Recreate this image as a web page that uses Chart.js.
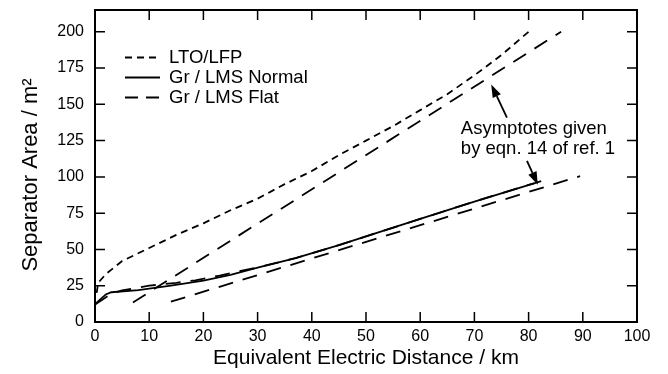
<!DOCTYPE html>
<html>
<head>
<meta charset="utf-8">
<title>Separator Area vs Equivalent Electric Distance</title>
<script src="https://cdn.jsdelivr.net/npm/chart.js@4.4.0/dist/chart.umd.min.js"></script>
<style>
    html, body { margin: 0; padding: 0; background: #fff; }
    #wrap { width: 668px; height: 374px; }
</style>
</head>
<body>
<div id="wrap"><canvas id="chart" width="668" height="374"></canvas></div>
<script>
// Data (km, m^2)
const ltoX = [0.3, 0.6, 2, 5, 10, 15, 20, 25, 30, 35, 40, 45, 50, 55, 60, 65, 70, 75, 80];
const ltoY = [20, 27, 33, 42, 51, 60, 68, 77, 85, 95, 104, 115, 125, 135, 146, 157, 170, 184, 200];

const normalX = [0, 0.5, 2, 3, 8, 14, 20, 25, 30, 37, 45, 50, 60, 70, 81];
const normalY = [12, 14, 19, 20.5, 22, 25, 28.5, 32.5, 37.5, 44, 53, 59, 71, 83, 95.6];

const flatX = [0, 1, 3, 5, 10, 15, 18.5, 23, 26, 30, 37, 45, 50, 60, 70, 81, 84];
const flatY = [12, 14.5, 19.5, 21.8, 25, 27, 28.7, 32, 34.5, 37.5, 44, 53, 59, 71, 83, 95.6, 99];

// Asymptotes (eqn. 14 of ref. 1)
const asymSteepX = [7, 86];
const asymSteepY = [13.5, 200];
const asymShallowX = [14, 89.5];
const asymShallowY = [14, 100.5];

const xTicks = { min: 0, max: 100, step: 10 };
const yTicks = { min: 0, max: 215, step: 25 };

const legendLabels = ['LTO/LFP', 'Gr / LMS Normal', 'Gr / LMS Flat'];
const noteLines = ['Asymptotes given', 'by eqn. 14 of ref. 1'];
const yTitle = 'Separator Area / m²';

const FONT = "'Liberation Sans', Arial, Helvetica, sans-serif";
const SHORT_DASH = [7, 5];
const LONG_DASH = [15, 10];

function toPoints(xs, ys) {
    return xs.map((x, i) => ({ x: x, y: ys[i] }));
}

function lineSet(label, xs, ys, dash) {
    return {
        label: label,
        data: toPoints(xs, ys),
        borderColor: '#000',
        borderWidth: 1.8,
        borderDash: dash,
        pointRadius: 0,
        fill: false,
        tension: 0
    };
}

// inward ticks on all four sides plus the frame
const frameTicks = {
    id: 'frameTicks',
    afterDraw(chart) {
        const { ctx, chartArea: a, scales: { x, y } } = chart;
        const len = 10;
        ctx.save();
        ctx.strokeStyle = '#000';
        ctx.lineWidth = 1.5;
        ctx.beginPath();
        x.ticks.forEach(t => {
            const px = x.getPixelForValue(t.value);
            ctx.moveTo(px, a.bottom); ctx.lineTo(px, a.bottom - len);
            ctx.moveTo(px, a.top); ctx.lineTo(px, a.top + len);
        });
        y.ticks.forEach(t => {
            const py = y.getPixelForValue(t.value);
            ctx.moveTo(a.left, py); ctx.lineTo(a.left + len, py);
            ctx.moveTo(a.right, py); ctx.lineTo(a.right - len, py);
        });
        ctx.stroke();
        ctx.lineWidth = 2;
        ctx.strokeRect(a.left, a.top, a.right - a.left, a.bottom - a.top);
        ctx.restore();
    }
};

// legend, arrow note and the y title (sits a little below centre in the original)
const notes = {
    id: 'notes',
    afterDraw(chart) {
        const { ctx, chartArea: a, scales: { x, y } } = chart;
        ctx.save();
        ctx.fillStyle = '#000';
        ctx.strokeStyle = '#000';
        ctx.font = '18.5px ' + FONT;
        ctx.textBaseline = 'middle';
        ctx.textAlign = 'left';

        const dashes = [SHORT_DASH, [], [13, 8]];
        legendLabels.forEach((lab, i) => {
            const ly = a.top + 47.5 + i * 20;
            ctx.lineWidth = 1.8;
            ctx.setLineDash(dashes[i]);
            ctx.beginPath();
            ctx.moveTo(a.left + 30, ly);
            ctx.lineTo(a.left + 65, ly);
            ctx.stroke();
            ctx.setLineDash([]);
            ctx.fillText(lab, a.left + 74, ly);
        });

        const tx = x.getPixelForValue(67.5);
        ctx.fillText(noteLines[0], tx, y.getPixelForValue(133.3));
        ctx.fillText(noteLines[1], tx, y.getPixelForValue(119.5));

        drawArrow(ctx, x.getPixelForValue(76.0), y.getPixelForValue(140.9),
                  x.getPixelForValue(73.1), y.getPixelForValue(163.7));
        drawArrow(ctx, x.getPixelForValue(79.7), y.getPixelForValue(111.1),
                  x.getPixelForValue(81.7), y.getPixelForValue(94.6));

        ctx.translate(31, (a.top + a.bottom) / 2 + 9);
        ctx.rotate(-Math.PI / 2);
        ctx.textAlign = 'center';
        ctx.font = '22px ' + FONT;
        ctx.fillText(yTitle, 0, 0);
        ctx.restore();
    }
};

function drawArrow(ctx, x1, y1, x2, y2) {
    const ang = Math.atan2(y2 - y1, x2 - x1);
    const head = 13, half = 4.5;
    const bx = x2 - head * Math.cos(ang), by = y2 - head * Math.sin(ang);
    ctx.lineWidth = 1.8;
    ctx.beginPath();
    ctx.moveTo(x1, y1);
    ctx.lineTo(bx, by);
    ctx.stroke();
    ctx.beginPath();
    ctx.moveTo(x2, y2);
    ctx.lineTo(bx + half * Math.sin(ang), by - half * Math.cos(ang));
    ctx.lineTo(bx - half * Math.sin(ang), by + half * Math.cos(ang));
    ctx.closePath();
    ctx.fill();
}

const ctx = document.getElementById('chart').getContext('2d');
new Chart(ctx, {
    type: 'line',
    data: {
        datasets: [
            lineSet(legendLabels[0], ltoX, ltoY, SHORT_DASH),
            lineSet(legendLabels[1], normalX, normalY, []),
            lineSet(legendLabels[2], flatX, flatY, LONG_DASH),
            lineSet('asym1', asymSteepX, asymSteepY, LONG_DASH),
            lineSet('asym2', asymShallowX, asymShallowY, LONG_DASH)
        ]
    },
    options: {
        responsive: false,
        animation: false,
        devicePixelRatio: 1,
        layout: { padding: { left: 0, right: 31, top: 10, bottom: 0 } },
        plugins: {
            legend: { display: false },
            tooltip: { enabled: false }
        },
        scales: {
            x: {
                type: 'linear',
                min: xTicks.min,
                max: xTicks.max,
                grid: { display: false, drawTicks: false },
                border: { display: false },
                ticks: {
                    stepSize: xTicks.step,
                    includeBounds: false,
                    maxRotation: 0,
                    padding: 5,
                    color: '#000',
                    font: { family: FONT, size: 16 }
                },
                title: {
                    display: true,
                    text: 'Equivalent Electric Distance / km',
                    color: '#000',
                    font: { family: FONT, size: 21 },
                    padding: { top: 0, bottom: 3 }
                },
                afterFit: s => {
                    s.height = 52;
                    s.paddingLeft = 0;
                    s.paddingRight = 0;
                }
            },
            y: {
                type: 'linear',
                min: yTicks.min,
                max: yTicks.max,
                grid: { display: false, drawTicks: false },
                border: { display: false },
                ticks: {
                    stepSize: yTicks.step,
                    includeBounds: false,
                    padding: 11,
                    color: '#000',
                    font: { family: FONT, size: 16 }
                },
                afterFit: s => {
                    s.width = 95;
                    s.paddingTop = 0;
                    s.paddingBottom = 0;
                }
            }
        }
    },
    plugins: [frameTicks, notes]
});
</script>
</body>
</html>
